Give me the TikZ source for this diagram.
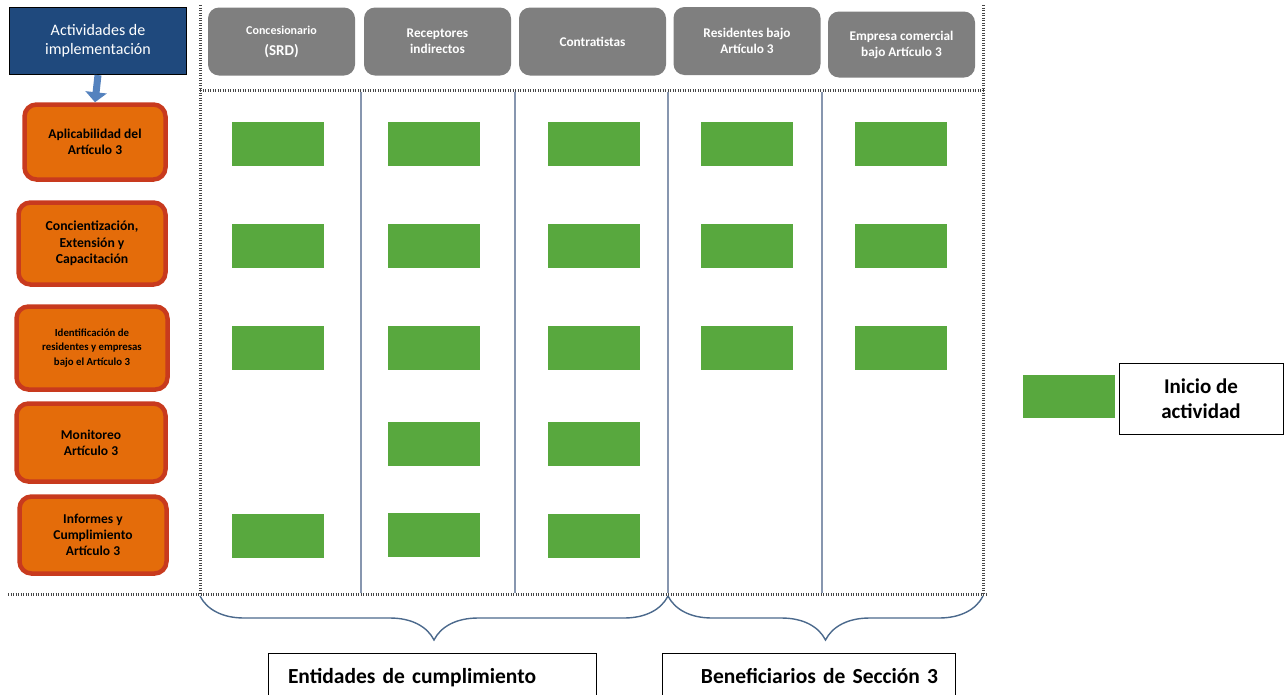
\documentclass[tikz,border=0pt]{standalone}
\usepackage{fontspec}
\setmainfont{Carlito}
\usetikzlibrary{arrows.meta,decorations.pathreplacing}
\definecolor{actblue}{RGB}{31,73,125}
\definecolor{arrowblue}{RGB}{84,130,190}
\definecolor{stepfill}{RGB}{228,108,10}
\definecolor{stepline}{RGB}{200,58,30}
\definecolor{headgrey}{RGB}{127,127,127}
\definecolor{startgreen}{RGB}{88,168,62}
\definecolor{colline}{RGB}{135,150,175}
\definecolor{dotgrey}{RGB}{70,70,70}
\definecolor{bracecol}{RGB}{75,105,140}
\tikzset{
  actbox/.style={draw=black,line width=1.2pt,fill=actblue,text=white,align=center,
    minimum width=177pt,minimum height=67pt,font=\fontsize{16}{19}\selectfont},
  stepbox/.style={draw=stepline,line width=4.5pt,fill=stepfill,rounded corners=12pt,
    align=center,font=\fontsize{13.5}{16}\selectfont\bfseries},
  headbox/.style={fill=headgrey,rounded corners=11pt,text=white,align=center,
    minimum width=147pt,minimum height=68pt,font=\fontsize{13.3}{16}\selectfont\bfseries},
  startbox/.style={fill=startgreen,minimum width=92pt,minimum height=44pt,inner sep=0pt},
  labelbox/.style={draw=black,line width=1pt,anchor=north,inner ysep=3pt,
    text height=27pt,text depth=22pt,font=\fontsize{21.5}{25}\selectfont\bfseries},
  divider/.style={colline,line width=1.5pt},
  dotline/.style={dotgrey,line width=3pt,dash pattern=on 1.4pt off 1.1pt},
  bracket/.style={bracecol,line width=1.4pt,decorate,
    decoration={brace,mirror,amplitude=44pt}}
}
\begin{document}
\begin{tikzpicture}[x=1pt,y=-1pt]
  \useasboundingbox (0,0) rectangle (1284,694);
  \clip (0,0) rectangle (1284,694);
  % actividades
  \node[actbox] (act) at (98,41) {Actividades de\\implementación};
  \node[stepbox,minimum width=141pt,minimum height=75pt] (apl) at (95,142) {Aplicabilidad del\\Artículo 3};
  \node[stepbox,minimum width=147pt,minimum height=82pt,font=\fontsize{13.7}{16.3}\selectfont\bfseries] (con) at (92,243.5) {Concientización,\\Extensión y\\Capacitación};
  \node[stepbox,minimum width=151pt,minimum height=83pt,font=\fontsize{10.8}{14.3}\selectfont\bfseries] (ide) at (92,348) {Identificación de\\residentes y empresas\\bajo el Artículo 3};
  \node[stepbox,minimum width=149pt,minimum height=78pt] (mon) at (91,442.5) {Monitoreo\\Artículo 3};
  \node[stepbox,minimum width=147pt,minimum height=77pt,font=\fontsize{13.5}{16.3}\selectfont\bfseries] (inf) at (93,535) {Informes y\\Cumplimiento\\Artículo 3};
  \draw[arrowblue,line width=7pt,-{Triangle[width=21pt,length=10pt]}] (act.south) -- (apl.north);
  % encabezados
  \node[headbox] (srd) at (281.5,41.5) {{\fontsize{12}{20}\selectfont Concesionario}\\[5pt]{\fontsize{15}{20}\selectfont (SRD)}};
  \node[headbox] (rec) at (437.5,41.5) {Receptores\\indirectos};
  \node[headbox] (ctr) at (592.5,41.5) {Contratistas};
  \node[headbox] (res) at (747,41) {Residentes bajo\\Artículo 3};
  \node[headbox,minimum height=66pt] (emp) at (901.5,44.5) {Empresa comercial\\bajo Artículo 3};
  % marco
  \coordinate (tl) at (200,5);
  \coordinate (tr) at (983,5);
  \coordinate (ml) at (200,90);
  \coordinate (mr) at (983,90);
  \coordinate (bl) at (200,594);
  \coordinate (br) at (983,594);
  \coordinate (b0) at (8,594);
  \coordinate (b1) at (986,594);
  \draw[dotline] (tl) -- (bl);
  \draw[dotline] (tr) -- (br);
  \draw[dotline] (ml) -- (mr);
  \draw[dotline] (b0) -- (b1);
  \draw[divider] (361,92) -- (361,593);
  \draw[divider] (515,92) -- (515,593);
  \draw[divider] (668,92) -- (668,593);
  \draw[divider] (822,92) -- (822,593);
  % inicio de actividad
  \path
    (278,144) node[startbox] (g11){}
    (278,246) node[startbox] (g12){}
    (278,348) node[startbox] (g13){}
    (278,536) node[startbox] (g15){}
    (434,144) node[startbox] (g21){}
    (434,246) node[startbox] (g22){}
    (434,348) node[startbox] (g23){}
    (434,444) node[startbox] (g24){}
    (434,535) node[startbox] (g25){}
    (594,144) node[startbox] (g31){}
    (594,246) node[startbox] (g32){}
    (594,348) node[startbox] (g33){}
    (594,444) node[startbox] (g34){}
    (594,536) node[startbox] (g35){}
    (747,144) node[startbox] (g41){}
    (747,246) node[startbox] (g42){}
    (747,348) node[startbox] (g43){}
    (901,144) node[startbox] (g51){}
    (901,246) node[startbox] (g52){}
    (901,348) node[startbox] (g53){};
  % llaves
  \coordinate (k0) at (200,596);
  \coordinate (k1) at (668,596);
  \coordinate (k2) at (983,596);
  \draw[bracket] (k0) -- (k1);
  \draw[bracket] (k1) -- (k2);
  \node[labelbox,inner xsep=20pt,text width=288pt,align=left] (ent) at (432,653) {Entidades de cumplimiento};
  \node[labelbox,inner xsep=17pt,text width=259pt,align=right] (ben) at (808.5,653) {Beneficiarios de Sección 3};
  % leyenda
  \node[startbox,minimum height=43pt] (leg) at (1069,396.5) {};
  \node[draw=black,line width=1pt,minimum width=164pt,minimum height=71pt,align=center,
    font=\fontsize{21}{25}\selectfont\bfseries] (ini) at (1201,398.5) {Inicio de\\actividad};
\end{tikzpicture}
\end{document}
